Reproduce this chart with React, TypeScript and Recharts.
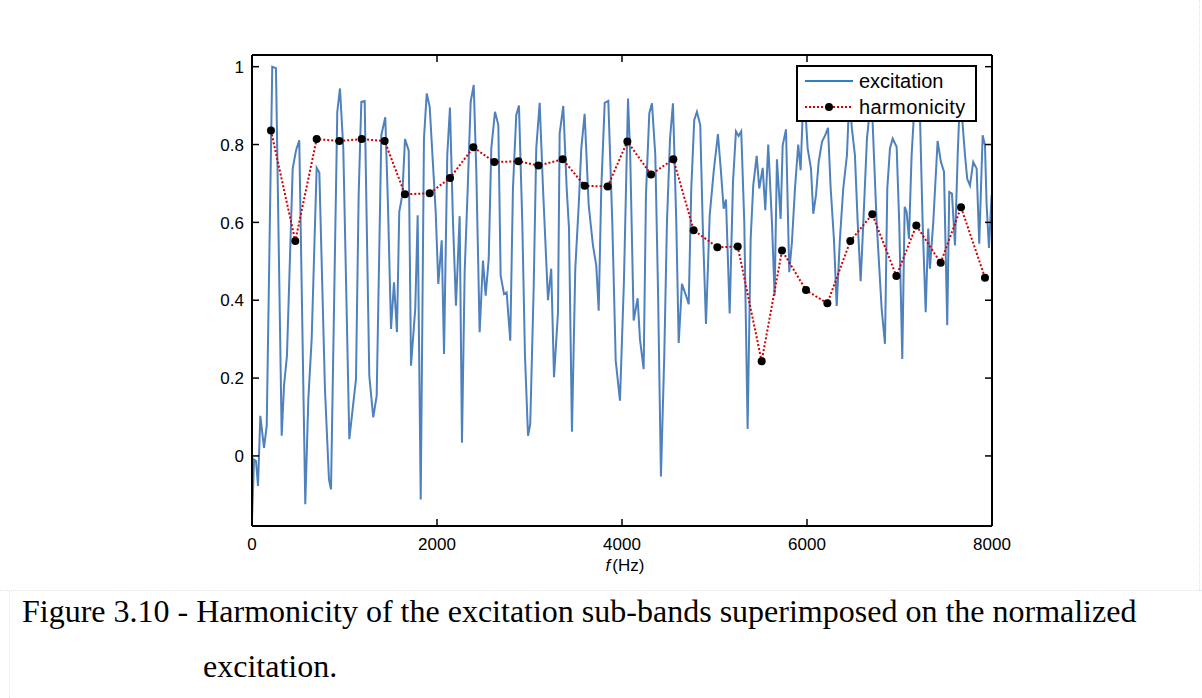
import { LineChart, Line, XAxis, YAxis, Legend } from 'recharts';

// excitation (normalized)
const excitationFreq = [
  0, 22, 43, 65, 90, 130, 159, 219, 259, 321, 346, 378, 440, 476, 511, 576, 609, 645, 699, 728,
  789, 832, 854, 922, 951, 987, 1052, 1124, 1153, 1182, 1218, 1268, 1311, 1348, 1398, 1441, 1470, 1503, 1535, 1567,
  1592, 1625, 1654, 1694, 1719, 1765, 1791, 1824, 1859, 1889, 1921, 1986, 2014, 2051, 2076, 2111, 2140, 2173, 2205, 2245,
  2270, 2299, 2332, 2364, 2397, 2425, 2461, 2497, 2526, 2559, 2587, 2627, 2663, 2688, 2724, 2753, 2792, 2821, 2857, 2886,
  2922, 2951, 2984, 3008, 3045, 3073, 3110, 3146, 3200, 3235, 3265, 3308, 3326, 3365, 3402, 3427, 3459, 3495, 3532, 3560,
  3596, 3640, 3686, 3722, 3748, 3776, 3813, 3852, 3895, 3932, 3978, 4021, 4065, 4089, 4126, 4169, 4194, 4234, 4259, 4295,
  4324, 4360, 4389, 4421, 4457, 4486, 4519, 4551, 4587, 4613, 4648, 4692, 4721, 4749, 4781, 4810, 4846, 4872, 4908, 4948,
  4991, 5037, 5070, 5099, 5124, 5164, 5200, 5232, 5261, 5289, 5322, 5358, 5391, 5419, 5456, 5484, 5521, 5549, 5581, 5621,
  5650, 5675, 5715, 5737, 5773, 5808, 5837, 5870, 5905, 5931, 5953, 5972, 6007, 6043, 6068, 6097, 6126, 6162, 6197, 6227,
  6256, 6291, 6321, 6356, 6392, 6432, 6457, 6486, 6518, 6548, 6580, 6609, 6648, 6697, 6753, 6807, 6843, 6868, 6897, 6926,
  6969, 6997, 7030, 7056, 7077, 7102, 7131, 7156, 7178, 7221, 7250, 7283, 7311, 7329, 7365, 7412, 7448, 7481, 7516, 7538,
  7567, 7600, 7629, 7653, 7672, 7708, 7732, 7762, 7797, 7834, 7862, 7899, 7924, 7942, 7967, 7996,
];
const excitationValue = [
  -0.163, -0.009, -0.013, -0.077, 0.103, 0.021, 0.077, 1.0, 0.996, 0.052, 0.18, 0.258, 0.738, 0.785, 0.811, -0.124, 0.146, 0.3, 0.74, 0.728,
  0.17, -0.06, -0.086, 0.884, 0.944, 0.79, 0.043, 0.197, 0.67, 0.91, 0.912, 0.206, 0.099, 0.155, 0.824, 0.87, 0.644, 0.326, 0.446, 0.318,
  0.627, 0.67, 0.814, 0.785, 0.232, 0.378, 0.618, -0.112, 0.815, 0.931, 0.897, 0.627, 0.442, 0.554, 0.262, 0.773, 0.895, 0.6, 0.386, 0.616,
  0.034, 0.472, 0.687, 0.91, 0.953, 0.73, 0.318, 0.502, 0.412, 0.506, 0.79, 0.884, 0.85, 0.464, 0.416, 0.42, 0.296, 0.687, 0.876, 0.9,
  0.6, 0.258, 0.052, 0.082, 0.43, 0.79, 0.907, 0.687, 0.4, 0.481, 0.202, 0.369, 0.828, 0.899, 0.687, 0.584, 0.062, 0.481, 0.644, 0.79,
  0.879, 0.644, 0.541, 0.489, 0.373, 0.687, 0.907, 0.912, 0.6, 0.245, 0.142, 0.45, 0.918, 0.77, 0.348, 0.405, 0.3, 0.223, 0.67, 0.88,
  0.906, 0.773, 0.43, -0.053, 0.258, 0.6, 0.815, 0.906, 0.6, 0.29, 0.442, 0.412, 0.39, 0.687, 0.863, 0.884, 0.85, 0.6, 0.339, 0.618,
  0.73, 0.827, 0.73, 0.635, 0.659, 0.366, 0.704, 0.834, 0.822, 0.834, 0.6, 0.069, 0.558, 0.695, 0.771, 0.687, 0.74, 0.631, 0.8, 0.6,
  0.412, 0.762, 0.609, 0.798, 0.839, 0.472, 0.549, 0.687, 0.8, 0.734, 0.876, 0.93, 0.79, 0.738, 0.622, 0.67, 0.755, 0.807, 0.824, 0.843,
  0.687, 0.558, 0.385, 0.558, 0.687, 0.773, 0.92, 0.84, 0.773, 0.6, 0.449, 0.6, 0.815, 0.93, 0.6, 0.378, 0.288, 0.687, 0.79, 0.815,
  0.794, 0.6, 0.249, 0.64, 0.627, 0.558, 0.773, 0.876, 0.93, 0.876, 0.6, 0.369, 0.584, 0.481, 0.6, 0.809, 0.755, 0.73, 0.336, 0.678,
  0.674, 0.541, 0.773, 0.92, 0.884, 0.773, 0.712, 0.695, 0.755, 0.738, 0.545, 0.824, 0.798, 0.644, 0.534, 0.67,
];

// harmonicity of each sub-band
const harmonicityFreq = [
  205, 468, 699, 944, 1186, 1434, 1654, 1921, 2141, 2393, 2620, 2880, 3096, 3359, 3596, 3845, 4058,
  4314, 4555, 4775, 5031, 5251, 5510, 5730, 5989, 6220, 6468, 6706, 6966, 7182, 7445, 7665, 7924,
];
const harmonicityValue = [
  0.836, 0.552, 0.814, 0.809, 0.814, 0.809, 0.672, 0.675, 0.714, 0.793, 0.755, 0.757, 0.746, 0.762, 0.694, 0.692, 0.808,
  0.723, 0.762, 0.58, 0.536, 0.538, 0.243, 0.528, 0.426, 0.392, 0.552, 0.621, 0.462, 0.592, 0.496, 0.639, 0.458,
];

const xTicks = [0, 2000, 4000, 6000, 8000];
const yTicks = [0, 0.2, 0.4, 0.6, 0.8, 1];

const excitation = excitationFreq.map((f, i) => ({ f, v: excitationValue[i] }));
const harmonicity = harmonicityFreq.map((f, i) => ({ f, h: harmonicityValue[i] }));

const FONT = 'Liberation Sans, Arial, sans-serif';
const axisStroke = { stroke: '#000', strokeWidth: 2 };
const TICK = 7;

// MATLAB-style ticks: short marks pointing into the plot box
function BottomTick(props: any) {
  const { x, y, payload } = props;
  const base = y - 12;
  return (
    <g>
      <line x1={x} x2={x} y1={base} y2={base - TICK} stroke="#000" strokeWidth={1.5} />
      <text x={x} y={y + 12} textAnchor="middle" fontSize={17} fontFamily={FONT} fill="#000">{payload.value}</text>
    </g>
  );
}

function LeftTick(props: any) {
  const { x, y, payload } = props;
  const base = x + 8;
  return (
    <g>
      <line x1={base} x2={base + TICK} y1={y} y2={y} stroke="#000" strokeWidth={1.5} />
      <text x={x} y={y} dy="0.36em" textAnchor="end" fontSize={17} fontFamily={FONT} fill="#000">{payload.value}</text>
    </g>
  );
}

function TopTick(props: any) {
  const { x, y } = props;
  return <line x1={x} x2={x} y1={y} y2={y + TICK} stroke="#000" strokeWidth={1.5} />;
}

function RightTick(props: any) {
  const { x, y } = props;
  return <line x1={x} x2={x - TICK} y1={y} y2={y} stroke="#000" strokeWidth={1.5} />;
}

function LegendBox() {
  return (
    <svg width={181} height={57} style={{ display: 'block' }}>
      <rect x={1} y={1} width={179} height={55} fill="#fff" stroke="#000" strokeWidth={2} />
      <line x1={9} y1={16} x2={57} y2={16} stroke="#2f7fc8" strokeWidth={2} />
      <text x={63} y={23} fontSize={20} fontFamily={FONT} fill="#000">excitation</text>
      <line x1={9} y1={42} x2={57} y2={42} stroke="#d00000" strokeWidth={2} strokeDasharray="2 2" />
      <circle cx={33} cy={42} r={4} fill="#000" />
      <text x={63} y={49} fontSize={20} fontFamily={FONT} fill="#000" letterSpacing={0.4}>harmonicity</text>
    </svg>
  );
}

function XLabel(props: any) {
  const vb = props.viewBox || { x: 0, y: 0, width: 0 };
  return (
    <text x={vb.x + vb.width / 2 + 3} y={vb.y + 45} textAnchor="middle" fontSize={17} fontFamily={FONT} fill="#000">
      <tspan fontStyle="italic">f</tspan>
      <tspan dx={2}>(Hz)</tspan>
    </text>
  );
}

const captionStyle = {
  position: 'absolute' as const,
  fontFamily: 'Liberation Serif, Times New Roman, serif',
  fontSize: 32,
  lineHeight: '32px',
  whiteSpace: 'nowrap' as const,
  color: '#000',
};

export default function App() {
  return (
    <div style={{ position: 'absolute', left: 0, top: 0, width: 1202, height: 698, background: '#fff', overflow: 'hidden' }}>
      <div style={{ position: 'absolute', left: 0, top: 590, width: 1202, borderTop: '1px dotted #d6e6ef' }} />
      <div style={{ position: 'absolute', left: 9, top: 590, height: 108, borderLeft: '1px dotted #d6e6ef' }} />
      <div style={{ position: 'absolute', left: 1199, top: 0, height: 590, borderLeft: '1px dotted #d6e6ef' }} />
      <div style={{ position: 'absolute', left: 0, top: 0 }}>
        <LineChart width={1202} height={600} margin={{ top: 54, right: 209, bottom: 24, left: 212 }}>
          <XAxis dataKey="f" type="number" domain={[0, 8000]} ticks={xTicks} height={50}
            tick={<BottomTick />} tickLine={false} tickSize={0} tickMargin={12} axisLine={axisStroke}
            allowDataOverflow label={<XLabel />} />
          <XAxis xAxisId="top" orientation="top" dataKey="f" type="number" domain={[0, 8000]} ticks={xTicks}
            height={1} tick={<TopTick />} tickLine={false} tickSize={0} tickMargin={0} axisLine={axisStroke} allowDataOverflow />
          <YAxis type="number" domain={[-0.18, 1.03]} ticks={yTicks} width={40}
            tick={<LeftTick />} tickLine={false} tickSize={0} tickMargin={8} axisLine={axisStroke} allowDataOverflow />
          <YAxis yAxisId="r" orientation="right" type="number" domain={[-0.18, 1.03]} ticks={yTicks} width={1}
            tick={<RightTick />} tickLine={false} tickSize={0} tickMargin={0} axisLine={axisStroke} allowDataOverflow />
          <Legend layout="vertical" verticalAlign="middle" align="center" content={() => <LegendBox />}
            wrapperStyle={{ left: 796, top: 65, width: 181, height: 57 }} />
          <Line data={excitation} dataKey="v" name="excitation" type="linear" stroke="#4f81bd" strokeWidth={2}
            dot={false} activeDot={false} isAnimationActive={false} />
          <Line data={harmonicity} dataKey="h" name="harmonicity" type="linear" stroke="#d00000" strokeWidth={2}
            strokeDasharray="2 2" dot={{ r: 4, fill: '#000', stroke: '#000', strokeWidth: 0 }} activeDot={false}
            isAnimationActive={false} />
        </LineChart>
      </div>
      <div style={{ ...captionStyle, left: 22, top: 595 }}>
        Figure 3.10 - Harmonicity of the excitation sub-bands superimposed on the normalized
      </div>
      <div style={{ ...captionStyle, left: 203, top: 650 }}>
        excitation.
      </div>
    </div>
  );
}
